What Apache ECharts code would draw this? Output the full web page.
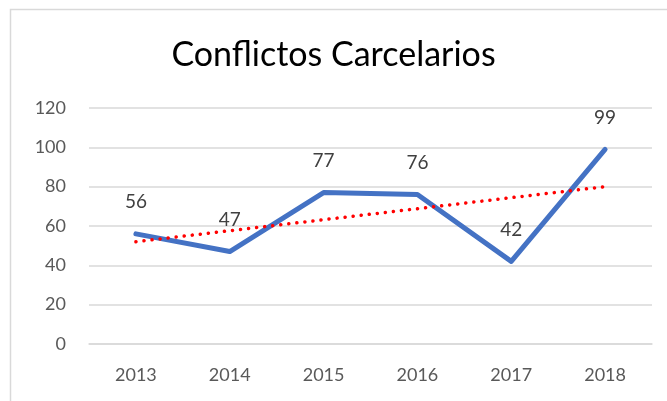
<!DOCTYPE html>
<html>
<head>
<meta charset="utf-8">
<script src="https://cdn.jsdelivr.net/npm/echarts@6/dist/echarts.min.js"></script>
<style>
  html, body { margin: 0; padding: 0; background: #fff; }
  #chart { width: 667px; height: 401px; }
</style>
</head>
<body>
<div id="chart"></div>
<script>
// datos
const years = ['2013', '2014', '2015', '2016', '2017', '2018']
const conflictos = [56, 47, 77, 76, 42, 99]
// línea de tendencia: sólo extremos, el resto se une
const tendencia = [52, null, null, null, null, 80]
const yTicks = [0, 20, 40, 60, 80, 100, 120]

const chart = echarts.init(document.getElementById('chart'))

chart.setOption({
  animation: false,
  backgroundColor: '#fff',
  textStyle: { fontFamily: 'Lato, "Open Sans", sans-serif' },
  title: {
    text: 'Conflictos Carcelarios',
    left: 'center',
    top: 33,
    textStyle: { fontSize: 34, fontWeight: 'normal', color: '#000', fontFamily: 'Lato' }
  },
  // marco exterior gris
  graphic: [
    {
      type: 'rect',
      shape: { x: 10.5, y: 9.5, width: 700, height: 420 },
      style: { fill: 'none', stroke: '#d9d9d9', lineWidth: 1.5 },
      silent: true
    }
  ],
  grid: { left: 89, right: 15, top: 108, bottom: 57 },
  xAxis: {
    type: 'category',
    data: years,
    axisLine: { show: true, lineStyle: { color: '#d9d9d9', width: 1.5 } },
    axisTick: { show: false },
    axisLabel: { color: '#595959', fontSize: 18, margin: 22 }
  },
  yAxis: {
    type: 'value',
    min: yTicks[0],
    max: yTicks[yTicks.length - 1],
    interval: 20,
    axisLine: { show: false },
    axisTick: { show: false },
    splitLine: { lineStyle: { color: '#d9d9d9', width: 1.5 } },
    axisLabel: { color: '#595959', fontSize: 18, margin: 23 }
  },
  series: [
    {
      name: 'Conflictos',
      type: 'line',
      data: conflictos,
      symbol: 'circle',
      symbolSize: 0,
      showSymbol: true,
      itemStyle: { color: '#4472c4' },
      lineStyle: { color: '#4472c4', width: 5, cap: 'round', join: 'round' },
      label: {
        show: true,
        position: 'top',
        distance: 22,
        color: '#404040',
        fontSize: 19
      },
      z: 3
    },
    {
      name: 'Tendencia',
      type: 'line',
      data: tendencia,
      connectNulls: true,
      symbol: 'none',
      lineStyle: { color: '#ff0000', width: 3.5, type: [0.1, 8], cap: 'round' },
      z: 4
    }
  ]
})
</script>
</body>
</html>
